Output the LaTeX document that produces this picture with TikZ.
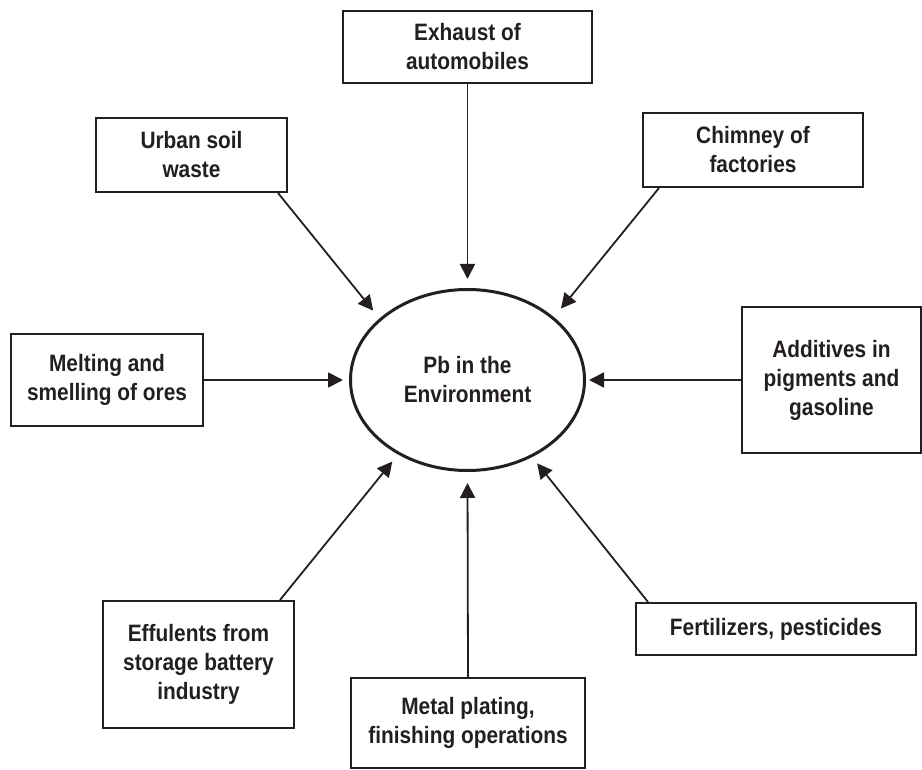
\documentclass[tikz,border=0pt]{standalone}
\usepackage{fontspec}
\setmainfont{Liberation Sans}[FakeStretch=0.88]
\usepackage{tikz}
\usetikzlibrary{calc, shapes, arrows.meta}
\definecolor{ink}{RGB}{35,31,32}
\tikzset{
	box/.style={draw=ink, line width=2pt, inner sep=0pt, align=center, text=ink,
		font=\fontsize{23.7}{29}\selectfont\bfseries},
	env/.style={draw=ink, ellipse, line width=3pt, inner sep=0pt, align=center, text=ink,
		minimum width=234pt, minimum height=181pt, font=\fontsize{23.7}{29}\selectfont\bfseries},
	arr/.style={draw=ink, line width=1.8pt, -{Triangle[length=15pt,width=15pt]}}
}

\begin{document}
\begin{tikzpicture}[x=1pt, y=-1pt]
		\useasboundingbox (0,0) rectangle (922,770);
		
		\node[env] (Pb) at (467.5,380){Pb in the\\Environment};
		
		\node[box, minimum width=249pt, minimum height=72pt] (Exh) at (467.5,47){Exhaust of\\automobiles};
		\node[box, minimum width=191pt, minimum height=74pt] (Urb) at (191.5,155){Urban soil\\waste};
		\node[box, minimum width=220pt, minimum height=74pt] (Chim) at (753,150){Chimney of\\factories};
		\node[box, minimum width=192pt, minimum height=92pt] (Melt) at (107,380){Melting and\\smelling of ores};
		\node[box, minimum width=179pt, minimum height=146pt] (Add) at (831.5,380){Additives in\\pigments and\\gasoline};
		\node[box, minimum width=191pt, minimum height=127pt] (Eff) at (198.5,664.5){Effulents from\\storage battery\\industry};
		\node[box, minimum width=234pt, minimum height=90pt] (Met) at (468,723){Metal plating,\\finishing operations};
		\node[box, minimum width=280pt, minimum height=52pt] (Fert) at (776,629){Fertilizers, pesticides};
		
		\draw[arr, shorten >=9pt] (Exh.south) -- (Pb.north);
		\draw[arr, shorten >=10pt] ($(Urb.south east)+(-10,0)$) -- (Pb.145);
		\draw[arr, shorten >=11pt] ($(Chim.south west)+(17,0)$) -- (Pb.36);
		\draw[arr, shorten >=6pt] (Melt.east) -- (Pb.west);
		\draw[arr, shorten >=3pt] (Add.west) -- (Pb.east);
		\draw[arr, shorten >=9pt] ($(Eff.north east)+(-15,0)$) -- (Pb.227);
		\draw[arr, shorten >=11pt] (Met.north) -- (Pb.south);
		\draw[arr, shorten >=8pt] ($(Fert.north west)+(13,0)$) -- (Pb.310);
	\end{tikzpicture}
\end{document}
